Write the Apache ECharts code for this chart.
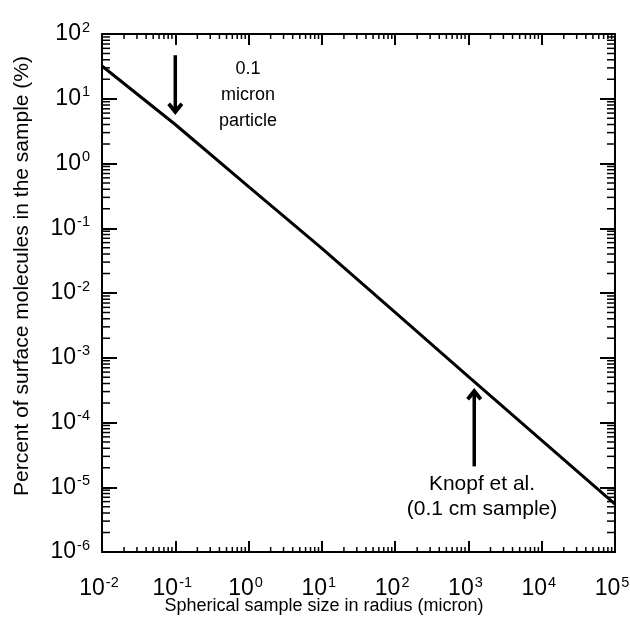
<!DOCTYPE html>
<html>
<head>
<meta charset="utf-8">
<script src="https://cdn.jsdelivr.net/npm/echarts@6/dist/echarts.min.js"></script>
<style>
  html, body { margin: 0; padding: 0; background: #fff; }
  #chart { width: 630px; height: 625px; }
</style>
</head>
<body>
<div id="chart"></div>
<script>
// ---- data ----
const xExponents = [-2, -1, 0, 1, 2, 3, 4, 5];          // x tick labels 10^n
const yExponents = [-6, -5, -4, -3, -2, -1, 0, 1, 2];   // y tick labels 10^n
const radius  = [0.01, 0.1, 1, 10, 100, 1000, 10000, 100000];           // micron
const percent = [32, 4.0, 0.44, 0.049, 5.0e-3, 5.1e-4, 5.3e-5, 5.5e-6]; // %
// arrows: [x, tail value, tip value]
const particleArrow = [0.1, 47, 5.6];
const knopfArrow    = [1200, 2.1e-5, 3.4e-4];
const annotParticle = ['0.1', 'micron', 'particle'];
const annotKnopf    = ['Knopf et al.', '(0.1 cm sample)'];
const xTitle = 'Spherical sample size in radius (micron)';
const yTitle = 'Percent of surface molecules in the sample (%)';

const xMin = Math.pow(10, xExponents[0]), xMax = Math.pow(10, xExponents[xExponents.length - 1]);
const yMin = Math.pow(10, yExponents[0]), yMax = Math.pow(10, yExponents[yExponents.length - 1]);

function minorValues(exps) {
  const out = [];
  for (let i = 0; i < exps.length - 1; i++) {
    for (let m = 2; m <= 9; m++) out.push(m * Math.pow(10, exps[i]));
  }
  return out;
}
const xMinor = minorValues(xExponents).map(v => [v, yMin]);
const yMinor = minorValues(yExponents).map(v => [xMin, v]);

const FONT = '"Liberation Sans", Arial, Helvetica, sans-serif';
const richY = {
  b: { fontSize: 23, fontFamily: FONT, color: '#000', lineHeight: 28 },
  s: { fontSize: 14.5, fontFamily: FONT, color: '#000', lineHeight: 15, padding: [0, 0, 13, 1] }
};
const richX = {
  b: { fontSize: 23, fontFamily: FONT, color: '#000', lineHeight: 28 },
  s: { fontSize: 14.5, fontFamily: FONT, color: '#000', lineHeight: 15, padding: [0, 6, 13, 1] }
};
function powLabel(v) {
  const e = Math.round(Math.log10(v));
  return '{b|10}{s|' + e + '}';
}

const chart = echarts.init(document.getElementById('chart'), null, { renderer: 'canvas' });

const axisCommon = {
  type: 'log', logBase: 10,
  axisLine: { show: true, onZero: false, lineStyle: { color: '#000', width: 2 } },
  splitLine: { show: false },
  minorTick: { show: false },
};

const option = {
  animation: false,
  backgroundColor: '#fff',
  grid: { left: 102, right: 15, top: 34, bottom: 73, containLabel: false, outerBoundsMode: 'none' },
  xAxis: [
    Object.assign({}, axisCommon, {
      position: 'bottom', min: xMin, max: xMax, interval: 1, splitNumber: 7,
      axisTick: { show: true, inside: true, length: 11, lineStyle: { color: '#000', width: 2 } },
      axisLabel: { show: true, margin: 23, formatter: powLabel, rich: richX }
    }),
    Object.assign({}, axisCommon, {
      position: 'top', min: xMin, max: xMax, interval: 1, splitNumber: 7,
      axisTick: { show: true, inside: true, length: 11, lineStyle: { color: '#000', width: 2 } },
      axisLabel: { show: false }
    })
  ],
  yAxis: [
    Object.assign({}, axisCommon, {
      position: 'left', min: yMin, max: yMax, interval: 1, splitNumber: 8,
      axisTick: { show: true, inside: true, length: 15, lineStyle: { color: '#000', width: 2 } },
      axisLabel: { show: true, margin: 12, formatter: powLabel, rich: richY }
    }),
    Object.assign({}, axisCommon, {
      position: 'right', min: yMin, max: yMax, interval: 1, splitNumber: 8,
      axisTick: { show: true, inside: true, length: 15, lineStyle: { color: '#000', width: 2 } },
      axisLabel: { show: false }
    })
  ],
  series: [
    {
      type: 'line',
      xAxisIndex: 0, yAxisIndex: 0,
      data: radius.map((r, i) => [r, percent[i]]),
      showSymbol: false, symbol: 'none',
      lineStyle: { color: '#000', width: 3 },
      clip: true
    },
    {
      type: 'custom',
      xAxisIndex: 0, yAxisIndex: 0,
      data: [particleArrow, knopfArrow],
      clip: false, silent: true,
      renderItem: function (params, api) {
        const x = api.value(0);
        const p0 = api.coord([x, api.value(1)]);
        const p1 = api.coord([x, api.value(2)]);
        const d = p1[1] > p0[1] ? 1 : -1;   // +1 pointing down
        const tx = p1[0], ty = p1[1];
        const head = [[0, 0], [8, 10], [5.2, 12.5], [0, 6.5], [-5.2, 12.5], [-8, 10]]
          .map(p => [tx + p[0], ty - d * p[1]]);
        return { type: 'group', children: [
          { type: 'line', shape: { x1: p0[0], y1: p0[1], x2: tx, y2: ty - d * 6 },
            style: { stroke: '#000', lineWidth: 3.5 } },
          { type: 'polygon', shape: { points: head }, style: { fill: '#000' } }
        ]};
      }
    },
    {
      type: 'custom',
      xAxisIndex: 0, yAxisIndex: 0,
      data: xMinor,
      clip: false, silent: true,
      renderItem: function (params, api) {
        const v = api.value(0);
        const pb = api.coord([v, yMin]);
        const pt = api.coord([v, yMax]);
        const style = { stroke: '#000', lineWidth: 1.5 };
        return { type: 'group', children: [
          { type: 'line', shape: { x1: pb[0], y1: pb[1], x2: pb[0], y2: pb[1] - 5 }, style: style },
          { type: 'line', shape: { x1: pt[0], y1: pt[1], x2: pt[0], y2: pt[1] + 5 }, style: style }
        ]};
      }
    },
    {
      type: 'custom',
      xAxisIndex: 0, yAxisIndex: 0,
      data: yMinor,
      clip: false, silent: true,
      renderItem: function (params, api) {
        const v = api.value(1);
        const pl = api.coord([xMin, v]);
        const pr = api.coord([xMax, v]);
        const style = { stroke: '#000', lineWidth: 1.5 };
        return { type: 'group', children: [
          { type: 'line', shape: { x1: pl[0], y1: pl[1], x2: pl[0] + 8, y2: pl[1] }, style: style },
          { type: 'line', shape: { x1: pr[0], y1: pr[1], x2: pr[0] - 8, y2: pr[1] }, style: style }
        ]};
      }
    }
  ],
  graphic: [
    {
      type: 'text',
      x: 248, y: 56,
      style: { text: annotParticle.join('\n'), font: '18px ' + FONT, fill: '#000', align: 'center', lineHeight: 26 }
    },
    {
      type: 'text',
      x: 482, y: 472,
      style: { text: annotKnopf.join('\n'), font: '21px ' + FONT, fill: '#000', align: 'center', lineHeight: 25 }
    },
    {
      type: 'text',
      x: 324, y: 597,
      style: { text: xTitle, font: '18px ' + FONT, fill: '#000', align: 'center' }
    },
    {
      type: 'text',
      x: 12, y: 276, rotation: Math.PI / 2,
      style: { text: yTitle, font: '21px ' + FONT, fill: '#000', align: 'center' }
    }
  ]
};
chart.setOption(option);
</script>
</body>
</html>
